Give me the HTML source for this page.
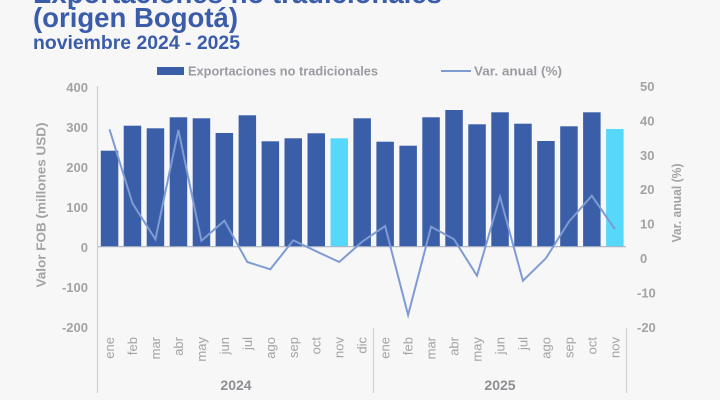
<!DOCTYPE html>
<html><head><meta charset="utf-8"><style>
html,body{margin:0;padding:0;background:#f7f7f7;}
svg{display:block;font-family:"Liberation Sans",sans-serif;}
</style></head><body>
<svg width="720" height="400" viewBox="0 0 720 400" xmlns="http://www.w3.org/2000/svg">
<rect width="720" height="400" fill="#f7f7f7"/>
<!-- titles -->
<text x="33" y="3" font-size="28" font-weight="bold" fill="#3a5ca9" textLength="409" lengthAdjust="spacingAndGlyphs">Exportaciones no tradicionales</text>
<text x="33" y="27" font-size="28" font-weight="bold" fill="#3a5ca9" textLength="205" lengthAdjust="spacingAndGlyphs">(origen Bogotá)</text>
<text x="33" y="49" font-size="19" font-weight="bold" fill="#3a5ca9" textLength="207" lengthAdjust="spacingAndGlyphs">noviembre 2024 - 2025</text>
<!-- legend -->
<rect x="157" y="67" width="27" height="8" fill="#3a5ea8"/>
<text x="188" y="75.5" font-size="13" font-weight="bold" fill="#9a9ca2" textLength="190" lengthAdjust="spacingAndGlyphs">Exportaciones no tradicionales</text>
<line x1="441" y1="71" x2="471" y2="71" stroke="#7f9bd3" stroke-width="2"/>
<text x="474" y="75.5" font-size="13" font-weight="bold" fill="#9a9ca2" textLength="88" lengthAdjust="spacingAndGlyphs">Var. anual (%)</text>
<!-- left tick labels -->
<g font-size="13" font-weight="bold" fill="#a3a3a5" text-anchor="end">
<text x="88" y="92">400</text>
<text x="88" y="132">300</text>
<text x="88" y="172">200</text>
<text x="88" y="212">100</text>
<text x="88" y="252">0</text>
<text x="88" y="292">-100</text>
<text x="88" y="332">-200</text>
</g>
<!-- right tick labels -->
<g font-size="13" font-weight="bold" fill="#a3a3a5">
<text x="640" y="91">50</text>
<text x="640" y="125.5">40</text>
<text x="640" y="160">30</text>
<text x="640" y="194">20</text>
<text x="640" y="228.5">10</text>
<text x="640" y="263">0</text>
<text x="637" y="297.5">-10</text>
<text x="637" y="332">-20</text>
</g>
<!-- axis titles -->
<text transform="translate(45.5,205) rotate(-90)" text-anchor="middle" font-size="13" font-weight="bold" fill="#a3a3a5" textLength="165" lengthAdjust="spacingAndGlyphs">Valor FOB (millones USD)</text>
<text transform="translate(681,203) rotate(-90)" text-anchor="middle" font-size="13" font-weight="bold" fill="#a3a3a5" textLength="79" lengthAdjust="spacingAndGlyphs">Var. anual (%)</text>
<!-- axes -->
<line x1="97.5" y1="86" x2="97.5" y2="393" stroke="#d0d0d0" stroke-width="1.2"/>
<line x1="373.5" y1="328" x2="373.5" y2="393" stroke="#d0d0d0" stroke-width="1.2"/>
<line x1="626.5" y1="328" x2="626.5" y2="393" stroke="#d0d0d0" stroke-width="1.2"/>
<!-- bars -->
<g fill="#3a5ea8">
<rect x="100.8" y="150.7" width="17.5" height="96"/>
<rect x="123.7" y="125.7" width="17.5" height="121"/>
<rect x="146.7" y="128.3" width="17.5" height="118.4"/>
<rect x="169.7" y="117.3" width="17.5" height="129.4"/>
<rect x="192.7" y="118.3" width="17.5" height="128.4"/>
<rect x="215.6" y="133" width="17.5" height="113.7"/>
<rect x="238.6" y="115.3" width="17.5" height="131.4"/>
<rect x="261.6" y="141.3" width="17.5" height="105.4"/>
<rect x="284.5" y="138.3" width="17.5" height="108.4"/>
<rect x="307.5" y="133.3" width="17.5" height="113.4"/>
<rect x="330.5" y="138.3" width="17.5" height="108.4" fill="#56d8fb"/>
<rect x="353.4" y="118.3" width="17.5" height="128.4"/>
<rect x="376.4" y="141.7" width="17.5" height="105"/>
<rect x="399.4" y="145.7" width="17.5" height="101"/>
<rect x="422.3" y="117.3" width="17.5" height="129.4"/>
<rect x="445.3" y="110" width="17.5" height="136.7"/>
<rect x="468.3" y="124.3" width="17.5" height="122.4"/>
<rect x="491.3" y="112.3" width="17.5" height="134.4"/>
<rect x="514.2" y="123.7" width="17.5" height="123"/>
<rect x="537.2" y="141" width="17.5" height="105.7"/>
<rect x="560.2" y="126.3" width="17.5" height="120.4"/>
<rect x="583.1" y="112.3" width="17.5" height="134.4"/>
<rect x="606.1" y="129" width="17.5" height="117.7" fill="#56d8fb"/>
</g>
<line x1="98" y1="246.7" x2="626" y2="246.7" stroke="#aab3c6" stroke-width="1.2"/>
<!-- line series -->
<polyline fill="none" stroke="#7f9bd3" stroke-width="2" stroke-linejoin="miter" points="109.5,129.3 132.5,203.3 155.4,239.3 178.4,130 201.4,240.7 224.4,220.7 247.3,262 270.3,269.3 293.3,240.3 316.2,251.3 339.2,262 362.2,241.7 385.1,226 408.1,315 431.1,226.7 454,239.3 477,275.7 500,196.7 522.9,280.7 545.9,258.3 568.9,221.7 591.8,195.7 614.8,229"/>
<!-- x labels -->
<g font-size="13" fill="#a3a3a5" text-anchor="end">
<text transform="translate(114,337) rotate(-90)">ene</text>
<text transform="translate(137,337) rotate(-90)">feb</text>
<text transform="translate(159.9,337) rotate(-90)">mar</text>
<text transform="translate(182.9,337) rotate(-90)">abr</text>
<text transform="translate(205.9,337) rotate(-90)">may</text>
<text transform="translate(228.9,337) rotate(-90)">jun</text>
<text transform="translate(251.8,337) rotate(-90)">jul</text>
<text transform="translate(274.8,337) rotate(-90)">ago</text>
<text transform="translate(297.8,337) rotate(-90)">sep</text>
<text transform="translate(320.7,337) rotate(-90)">oct</text>
<text transform="translate(343.7,337) rotate(-90)">nov</text>
<text transform="translate(366.7,337) rotate(-90)">dic</text>
<text transform="translate(389.6,337) rotate(-90)">ene</text>
<text transform="translate(412.6,337) rotate(-90)">feb</text>
<text transform="translate(435.6,337) rotate(-90)">mar</text>
<text transform="translate(458.5,337) rotate(-90)">abr</text>
<text transform="translate(481.5,337) rotate(-90)">may</text>
<text transform="translate(504.5,337) rotate(-90)">jun</text>
<text transform="translate(527.4,337) rotate(-90)">jul</text>
<text transform="translate(550.4,337) rotate(-90)">ago</text>
<text transform="translate(573.4,337) rotate(-90)">sep</text>
<text transform="translate(596.3,337) rotate(-90)">oct</text>
<text transform="translate(619.3,337) rotate(-90)">nov</text>
</g>
<g font-size="14" font-weight="bold" fill="#8e8f93" text-anchor="middle">
<text x="236" y="390">2024</text>
<text x="500" y="390">2025</text>
</g>
</svg>
</body></html>
